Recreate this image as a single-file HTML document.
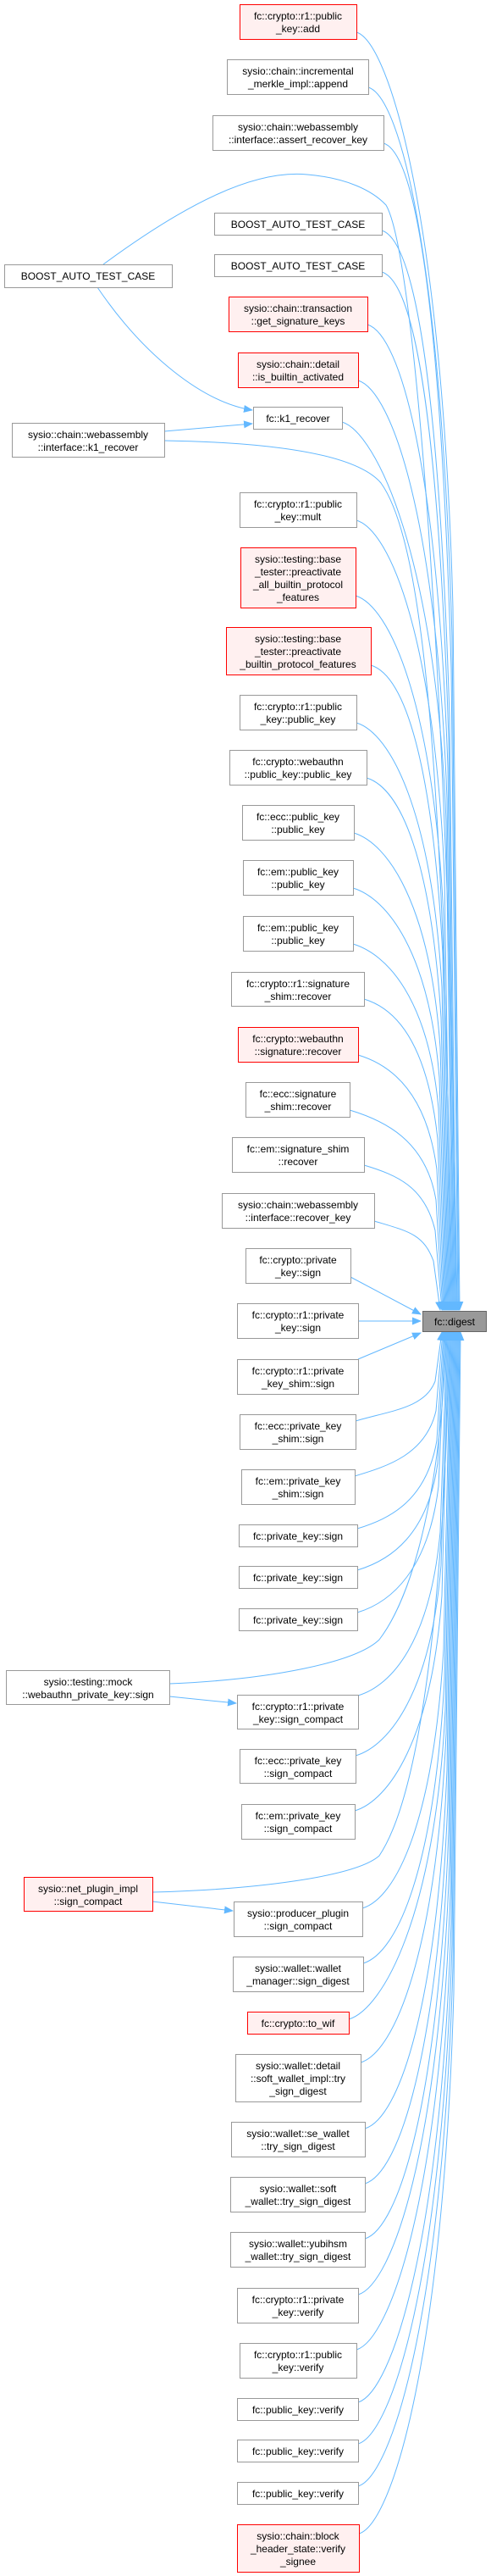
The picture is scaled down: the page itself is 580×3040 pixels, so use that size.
<!DOCTYPE html>
<html><head><meta charset="utf-8"><style>
html,body{margin:0;padding:0;background:#fff;}
svg{display:block;}
text{font-family:"Liberation Sans",Arial,sans-serif;font-size:12px;fill:#000;text-anchor:middle;}
.n rect{fill:#fff;stroke:#999;stroke-width:1;}
.r rect{fill:#fff0f0;stroke:#ff0000;stroke-width:1;}
.e{fill:none;stroke:#63b8ff;stroke-width:1;}
</style></head><body>
<svg width="580" height="3040" viewBox="0 0 580 3040" xmlns="http://www.w3.org/2000/svg">
<defs><marker id="a" markerWidth="11" markerHeight="9" refX="10" refY="4.5" orient="auto" markerUnits="userSpaceOnUse"><path d="M0,0 L11,4.5 L0,9z" fill="#63b8ff"/></marker></defs>
<g class="e" marker-end="url(#a)">
<path d="M421,38 C461,50 523,265 535,717 L543,1546"/>
<path d="M435,103 C475,115 522,319 534,752 L542,1546"/>
<path d="M453,169 C493,181 521,376 533,789 L541,1546"/>
<path d="M122,312 C220,240 300,200 363,206 C410,210 440,225 456,242 C490,300 530,800 540,1546"/>
<path d="M451,272 C491,284 519,463 531,845 L539,1546"/>
<path d="M451,321 C491,333 518,504 530,872 L538,1546"/>
<path d="M434,383 C474,395 517,557 529,906 L537,1546"/>
<path d="M423,449 C463,461 516,614 528,943 L536,1546"/>
<path d="M404,498 C444,510 515,656 527,970 L535,1546"/>
<path d="M194,520 C320,522 420,535 450,570 C500,640 525,900 534,1546"/>
<path d="M421,614 C461,626 513,753 525,1033 L533,1546"/>
<path d="M420,703 C460,715 512,829 524,1082 L532,1546"/>
<path d="M438,785 C478,797 511,899 523,1127 L531,1546"/>
<path d="M421,853 C461,865 510,957 522,1165 L530,1546"/>
<path d="M433,918 C473,930 509,1013 521,1201 L529,1546"/>
<path d="M418,983 C458,995 508,1067 520,1236 L528,1546"/>
<path d="M417,1048 C457,1060 507,1123 519,1272 L527,1546"/>
<path d="M417,1114 C457,1126 506,1178 518,1308 L526,1546"/>
<path d="M430,1179 C470,1191 505,1234 517,1344 L525,1546"/>
<path d="M423,1245 C463,1257 504,1290 516,1380 L524,1546"/>
<path d="M413,1310 C453,1322 503,1345 515,1416 L523,1546"/>
<path d="M430,1375 C470,1387 502,1401 514,1452 L522,1546"/>
<path d="M442,1441 C482,1453 500,1456 512,1488 L520,1546"/>
<path d="M414,1507 L497,1551"/>
<path d="M423,1559 L497,1559"/>
<path d="M423,1604 L497,1573"/>
<path d="M420,1677 C460,1665 502,1662 514,1630 L522,1572"/>
<path d="M419,1742 C459,1730 503,1716 515,1665 L523,1572"/>
<path d="M422,1804 C462,1792 504,1770 516,1700 L524,1572"/>
<path d="M422,1853 C462,1841 505,1811 517,1727 L525,1572"/>
<path d="M422,1903 C462,1891 506,1853 518,1754 L526,1572"/>
<path d="M200,1987 C320,1982 420,1962 448,1935 C490,1880 522,1750 527,1572"/>
<path d="M423,2001 C463,1989 508,1937 520,1808 L528,1572"/>
<path d="M420,2072 C460,2060 509,1997 521,1847 L529,1572"/>
<path d="M419,2137 C459,2125 510,2053 522,1883 L530,1572"/>
<path d="M180,2233 C300,2230 420,2215 448,2190 C495,2120 525,1900 531,1572"/>
<path d="M428,2252 C468,2240 512,2150 524,1946 L532,1572"/>
<path d="M429,2317 C469,2305 513,2206 525,1982 L533,1572"/>
<path d="M412,2383 C452,2371 514,2261 526,2018 L534,1572"/>
<path d="M426,2434 C466,2422 515,2305 527,2046 L535,1572"/>
<path d="M431,2512 C471,2500 516,2371 528,2089 L536,1572"/>
<path d="M431,2577 C471,2565 517,2427 529,2125 L537,1572"/>
<path d="M431,2642 C471,2630 518,2481 530,2160 L538,1572"/>
<path d="M423,2708 C463,2696 519,2538 531,2197 L539,1572"/>
<path d="M421,2773 C461,2761 520,2593 532,2233 L540,1572"/>
<path d="M423,2835 C463,2823 521,2646 533,2267 L541,1572"/>
<path d="M423,2884 C463,2872 522,2688 534,2294 L542,1572"/>
<path d="M423,2934 C463,2922 523,2730 535,2321 L543,1572"/>
<path d="M424,2990 C464,2978 524,2777 536,2352 L544,1572"/>
<path d="M115,339 C170,420 240,475 298,484"/>
<path d="M194,509 L298,500"/>
<path d="M200,2002 L279,2010"/>
<path d="M180,2244 L275,2255"/>
</g>

<g class="r"><rect x="283.5" y="5.5" width="138" height="41"/><text x="352" y="23">fc::crypto::r1::public</text><text x="352" y="38">_key::add</text></g>
<g class="n"><rect x="268.5" y="70.5" width="167" height="41"/><text x="352" y="88">sysio::chain::incremental</text><text x="352" y="103">_merkle_impl::append</text></g>
<g class="n"><rect x="251.5" y="136.5" width="202" height="41"/><text x="352" y="154">sysio::chain::webassembly</text><text x="352" y="169">::interface::assert_recover_key</text></g>
<g class="n"><rect x="253.5" y="251.5" width="198" height="26"/><text x="352" y="269">BOOST_AUTO_TEST_CASE</text></g>
<g class="n"><rect x="253.5" y="300.5" width="198" height="26"/><text x="352" y="318">BOOST_AUTO_TEST_CASE</text></g>
<g class="r"><rect x="270.5" y="350.5" width="164" height="41"/><text x="352" y="368">sysio::chain::transaction</text><text x="352" y="383">::get_signature_keys</text></g>
<g class="r"><rect x="281.5" y="416.5" width="142" height="41"/><text x="352" y="434">sysio::chain::detail</text><text x="352" y="449">::is_builtin_activated</text></g>
<g class="n"><rect x="299.5" y="480.5" width="105" height="26"/><text x="352" y="498">fc::k1_recover</text></g>
<g class="n"><rect x="5.5" y="312.5" width="198" height="27"/><text x="104" y="330">BOOST_AUTO_TEST_CASE</text></g>
<g class="n"><rect x="14.5" y="499.5" width="180" height="40"/><text x="104" y="517">sysio::chain::webassembly</text><text x="104" y="532">::interface::k1_recover</text></g>
<g class="n"><rect x="283.5" y="581.5" width="138" height="41"/><text x="352" y="599">fc::crypto::r1::public</text><text x="352" y="614">_key::mult</text></g>
<g class="r"><rect x="284.5" y="646.5" width="136" height="71"/><text x="352" y="664">sysio::testing::base</text><text x="352" y="679">_tester::preactivate</text><text x="352" y="694">_all_builtin_protocol</text><text x="352" y="709">_features</text></g>
<g class="r"><rect x="267.5" y="740.5" width="171" height="56"/><text x="352" y="758">sysio::testing::base</text><text x="352" y="773">_tester::preactivate</text><text x="352" y="788">_builtin_protocol_features</text></g>
<g class="n"><rect x="283.5" y="820.5" width="138" height="41"/><text x="352" y="838">fc::crypto::r1::public</text><text x="352" y="853">_key::public_key</text></g>
<g class="n"><rect x="271.5" y="885.5" width="162" height="41"/><text x="352" y="903">fc::crypto::webauthn</text><text x="352" y="918">::public_key::public_key</text></g>
<g class="n"><rect x="286.5" y="950.5" width="132" height="41"/><text x="352" y="968">fc::ecc::public_key</text><text x="352" y="983">::public_key</text></g>
<g class="n"><rect x="287.5" y="1015.5" width="130" height="41"/><text x="352" y="1033">fc::em::public_key</text><text x="352" y="1048">::public_key</text></g>
<g class="n"><rect x="287.5" y="1081.5" width="130" height="41"/><text x="352" y="1099">fc::em::public_key</text><text x="352" y="1114">::public_key</text></g>
<g class="n"><rect x="273.5" y="1147.5" width="157" height="40"/><text x="352" y="1165">fc::crypto::r1::signature</text><text x="352" y="1180">_shim::recover</text></g>
<g class="r"><rect x="281.5" y="1212.5" width="142" height="41"/><text x="352" y="1230">fc::crypto::webauthn</text><text x="352" y="1245">::signature::recover</text></g>
<g class="n"><rect x="290.5" y="1277.5" width="123" height="41"/><text x="352" y="1295">fc::ecc::signature</text><text x="352" y="1310">_shim::recover</text></g>
<g class="n"><rect x="274.5" y="1342.5" width="156" height="41"/><text x="352" y="1360">fc::em::signature_shim</text><text x="352" y="1375">::recover</text></g>
<g class="n"><rect x="262.5" y="1408.5" width="180" height="41"/><text x="352" y="1426">sysio::chain::webassembly</text><text x="352" y="1441">::interface::recover_key</text></g>
<g class="n"><rect x="290.5" y="1473.5" width="124" height="41"/><text x="352" y="1491">fc::crypto::private</text><text x="352" y="1506">_key::sign</text></g>
<g class="n"><rect x="280.5" y="1538.5" width="143" height="41"/><text x="352" y="1556">fc::crypto::r1::private</text><text x="352" y="1571">_key::sign</text></g>
<g class="n"><rect x="280.5" y="1604.5" width="143" height="41"/><text x="352" y="1622">fc::crypto::r1::private</text><text x="352" y="1637">_key_shim::sign</text></g>
<g class="n"><rect x="283.5" y="1669.5" width="137" height="41"/><text x="352" y="1687">fc::ecc::private_key</text><text x="352" y="1702">_shim::sign</text></g>
<g class="n"><rect x="285.5" y="1734.5" width="134" height="41"/><text x="352" y="1752">fc::em::private_key</text><text x="352" y="1767">_shim::sign</text></g>
<g class="n"><rect x="282.5" y="1799.5" width="140" height="26"/><text x="352" y="1817">fc::private_key::sign</text></g>
<g class="n"><rect x="282.5" y="1848.5" width="140" height="26"/><text x="352" y="1866">fc::private_key::sign</text></g>
<g class="n"><rect x="282.5" y="1898.5" width="140" height="26"/><text x="352" y="1916">fc::private_key::sign</text></g>
<g class="n"><rect x="7.5" y="1971.5" width="193" height="40"/><text x="104" y="1989">sysio::testing::mock</text><text x="104" y="2004">::webauthn_private_key::sign</text></g>
<g class="n"><rect x="280.5" y="2000.5" width="143" height="40"/><text x="352" y="2018">fc::crypto::r1::private</text><text x="352" y="2033">_key::sign_compact</text></g>
<g class="n"><rect x="283.5" y="2064.5" width="137" height="40"/><text x="352" y="2082">fc::ecc::private_key</text><text x="352" y="2097">::sign_compact</text></g>
<g class="n"><rect x="285.5" y="2129.5" width="134" height="41"/><text x="352" y="2147">fc::em::private_key</text><text x="352" y="2162">::sign_compact</text></g>
<g class="r"><rect x="28.5" y="2215.5" width="152" height="40"/><text x="104" y="2233">sysio::net_plugin_impl</text><text x="104" y="2248">::sign_compact</text></g>
<g class="n"><rect x="276.5" y="2244.5" width="152" height="41"/><text x="352" y="2262">sysio::producer_plugin</text><text x="352" y="2277">::sign_compact</text></g>
<g class="n"><rect x="275.5" y="2309.5" width="154" height="41"/><text x="352" y="2327">sysio::wallet::wallet</text><text x="352" y="2342">_manager::sign_digest</text></g>
<g class="r"><rect x="292.5" y="2374.5" width="120" height="26"/><text x="352" y="2392">fc::crypto::to_wif</text></g>
<g class="n"><rect x="278.5" y="2424.5" width="148" height="56"/><text x="352" y="2442">sysio::wallet::detail</text><text x="352" y="2457">::soft_wallet_impl::try</text><text x="352" y="2472">_sign_digest</text></g>
<g class="n"><rect x="273.5" y="2504.5" width="158" height="41"/><text x="352" y="2522">sysio::wallet::se_wallet</text><text x="352" y="2537">::try_sign_digest</text></g>
<g class="n"><rect x="272.5" y="2569.5" width="159" height="41"/><text x="352" y="2587">sysio::wallet::soft</text><text x="352" y="2602">_wallet::try_sign_digest</text></g>
<g class="n"><rect x="272.5" y="2634.5" width="159" height="41"/><text x="352" y="2652">sysio::wallet::yubihsm</text><text x="352" y="2667">_wallet::try_sign_digest</text></g>
<g class="n"><rect x="280.5" y="2700.5" width="143" height="41"/><text x="352" y="2718">fc::crypto::r1::private</text><text x="352" y="2733">_key::verify</text></g>
<g class="n"><rect x="283.5" y="2765.5" width="138" height="41"/><text x="352" y="2783">fc::crypto::r1::public</text><text x="352" y="2798">_key::verify</text></g>
<g class="n"><rect x="280.5" y="2830.5" width="143" height="26"/><text x="352" y="2848">fc::public_key::verify</text></g>
<g class="n"><rect x="280.5" y="2879.5" width="143" height="26"/><text x="352" y="2897">fc::public_key::verify</text></g>
<g class="n"><rect x="280.5" y="2929.5" width="143" height="26"/><text x="352" y="2947">fc::public_key::verify</text></g>
<g class="r"><rect x="280.5" y="2979.5" width="144" height="56"/><text x="352" y="2997">sysio::chain::block</text><text x="352" y="3012">_header_state::verify</text><text x="352" y="3027">_signee</text></g>
<g><rect x="499.5" y="1547.5" width="75" height="24" fill="#999" stroke="#666"/><text x="537" y="1564">fc::digest</text></g>
</svg>
</body></html>
